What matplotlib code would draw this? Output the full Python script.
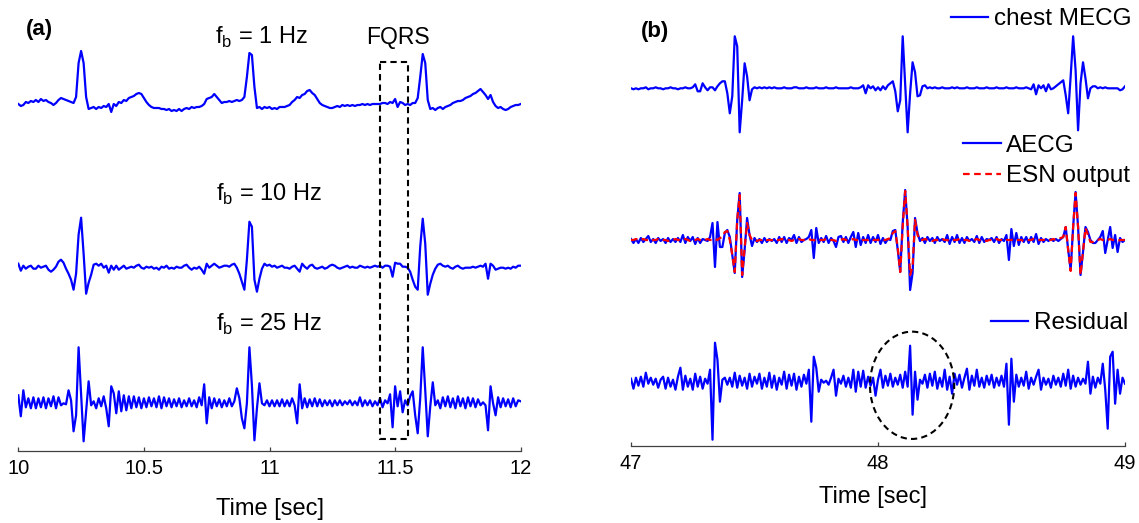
import numpy as np
import matplotlib.pyplot as plt
from matplotlib.patches import Rectangle, Ellipse

plt.rcParams['font.family'] = ['Liberation Sans', 'DejaVu Sans']
plt.rcParams['mathtext.fontset'] = 'custom'
plt.rcParams['mathtext.rm'] = 'Liberation Sans'

# sampling: 100 Hz, 2 s windows
fs = 100.0
t0_a = 10.0
t0_b = 47.0

# (a) abdominal ECG after high-pass filtering at fb (amplitude, a.u.)
fb1 = [0, -2, -1, 2, 1, 3, 2, 4, 2, 5,
       3, 4, 2, 1, -1, 1, 4, 6, 5, 4,
       3, 2, 1, 7, 41, 53, 41, 7, -5, -4,
       -3, -5, -3, -4, -2, -3, 0, -8, 0, -2,
       2, 1, 4, 3, 6, 7, 8, 10, 11, 10,
       6, 2, -1, -3, -4, -4, -4, -5, -5, -6,
       -5, -7, -6, -7, -5, -7, -5, -4, -5, -3,
       -4, -3, -3, -2, 0, 5, 6, 7, 10, 7,
       4, 1, 2, 2, 3, 2, 3, 4, 3, 4,
       7, 27, 51, 49, 17, -4, -3, -5, -3, -4,
       -3, -5, -4, -5, -3, -3, -3, -2, -1, 2,
       4, 7, 6, 9, 10, 13, 14, 11, 9, 5,
       1, -1, -2, -3, -4, -4, -3, -2, -3, -1,
       -2, -1, -2, -1, -2, -1, -1, 0, -1, 0,
       -1, 0, 0, 0, 0, 1, 1, 0, 2, 1,
       5, -3, 2, 1, -1, 0, -1, 1, 1, 6,
       27, 50, 41, 4, -5, -4, -6, -4, -3, -5,
       -3, -2, -1, 1, 2, 3, 3, 4, 6, 7,
       8, 10, 11, 13, 15, 12, 9, 5, 9, 2,
       -2, -4, -3, -5, -6, -5, -3, -2, -1, -1, 0]

fb10 = [3, -4, 1, -2, 0, 1, -2, -2, 1, -1,
        0, 1, -3, -5, -3, 0, 5, 7, 4, -2,
        -7, -13, -23, -7, 32, 49, 13, -27, -16, -8,
        2, 3, 1, 3, -1, 1, -6, 1, -3, 1,
        -3, -1, 1, -2, -1, 0, -1, 1, 2, -1,
        -2, 0, -1, 0, -2, -1, -3, 0, -1, 1,
        -2, -1, -2, 0, -1, -1, 1, 2, -1, -3,
        -1, -2, 0, -3, -7, 3, -1, 1, 3, 1,
        -1, 0, 1, 1, 0, 2, 3, -1, -7, -15,
        -23, 7, 45, 40, -13, -25, -12, -2, 3, 1,
        2, 0, 1, -1, 0, 1, -1, -1, -2, 0,
        1, -2, -5, 3, 0, -2, 1, 2, -1, -2,
        -1, 0, -2, -1, 1, 2, 1, -1, -2, -1,
        0, 1, -1, 0, -1, -1, 1, 0, -1, 0,
        -1, 0, 1, 0, 1, -1, 1, 1, 0, -10,
        4, 3, 3, 0, 0, -1, -5, -13, -20, -23,
        20, 48, 23, -28, -17, -8, -2, 2, 3, 1,
        0, 1, -1, -2, 0, 1, -1, -2, -1, -1,
        -1, 0, -1, 0, 1, 0, 3, -12, 3, 1,
        -3, -2, -1, -1, -2, -1, -2, 0, -1, 1, 1]

fb25 = [8, -13, 13, -4, 5, -5, 6, -5, 5, -4,
        6, -5, 5, -3, 7, -5, 6, -2, 0, -1,
        13, 3, -28, -12, 56, 10, -38, -8, 22, -2,
        2, -5, 5, -3, 7, -5, -23, 17, 10, -10,
        12, -8, 8, -7, 7, -5, 7, -4, 6, -5,
        5, -4, 6, -3, 5, -4, 7, -5, 6, -3,
        5, -4, 4, -3, 5, -4, 3, -3, 5, -3,
        3, -4, 6, -2, 19, -20, 6, -5, 5, -3,
        4, -4, 3, -3, 5, -3, 2, 15, 5, -15,
        -25, 0, 56, 18, -37, -5, 20, 0, -2, 3,
        -3, 3, -3, 3, -3, 4, -3, 3, -3, 5,
        -2, -20, 19, -5, 5, -4, 4, -3, 5, -3,
        4, -3, 3, -2, 3, -3, 3, -2, 3, -2,
        2, -1, 3, -2, 2, -2, 6, -3, 3, -2,
        3, -3, 2, -2, 5, -4, 3, 0, 9, -24,
        17, -3, 12, -9, 3, -2, 7, 12, -12, -30,
        5, 56, 13, -33, -3, 21, -2, 3, -5, 6,
        -3, 7, -4, 5, -5, 7, -3, 5, -5, 6,
        -3, 5, -4, 4, -2, 1, -2, -27, 17, 0,
        -12, 6, -4, 5, -3, 4, -4, 5, -3, 3, 2]

# (b) maternal cancellation
chest_mecg = [0, -1, 0, -1, 0, 0, 1, -1, 0, 0,
              1, 0, 0, -1, 0, 0, 1, 0, 0, -1,
              0, 0, 1, 0, 0, 1, 4, -3, -3, 5,
              1, -2, 1, 1, -2, 2, 5, 7, 7, -5,
              -25, -8, 52, 42, -44, -12, 25, 12, -12, -1,
              1, 0, 1, 0, 1, 0, 1, 0, 1, 0,
              0, 0, 1, 0, 0, 0, 1, 1, 0, 0,
              0, 1, 0, 0, 0, 1, 0, 0, 0, 1,
              0, 0, 0, 1, 0, 0, 0, 0, 0, 1,
              0, 0, 0, 1, 3, -5, 3, 0, 2, -2,
              1, -2, 2, -1, 3, 5, 7, -3, -23, -12,
              52, 5, -44, -5, 26, 16, -8, -7, 2, 3,
              0, 1, 0, 1, 0, 0, 1, 0, 0, 0,
              1, 0, 1, 0, 0, 0, 1, 0, 0, 0,
              1, 0, 0, 0, 1, 0, 0, 0, 1, 0,
              0, 0, 1, 0, 0, 0, 1, 0, 0, 0,
              1, 0, -1, 4, -6, 3, 0, 3, -3, 4,
              -1, 0, 2, 4, 6, 8, -7, -25, 12, 52,
              18, -42, 5, 26, 10, -10, 0, 2, 2, 0,
              1, 0, 1, 0, 0, 0, 0, 0, -2, -1, 2]

aecg = [1, -3, 1, -3, 2, -2, 1, 4, -2, 1,
        -3, 2, -1, 1, -3, 2, -2, 1, -2, 2,
        -2, 5, -3, 3, -1, 3, -4, 2, -3, 1,
        0, -1, 3, 17, -27, 18, -7, -7, 7, 10,
        3, -15, -33, 20, 47, -37, -10, 22, 5, -6,
        2, -2, 1, -3, 2, -2, 1, -1, 1, -3,
        3, -2, 3, -3, 2, 0, 5, -3, 3, -2,
        0, 1, 3, 10, -18, 12, -3, 2, -2, 4,
        -3, 2, -1, -7, 3, 4, -2, 3, -3, 3,
        8, -7, 7, -5, 3, -3, 5, -3, 3, -2,
        5, -4, 2, -3, 1, 0, 9, 10, -10, -32,
        17, 50, 13, -50, -33, 22, 7, -1, 2, -3,
        3, -1, 2, -3, 3, -1, 1, -2, 5, -4,
        3, -2, 5, -3, 2, -3, 3, -1, 1, -2,
        4, -3, 3, -2, 1, 0, 2, -2, 3, -3,
        1, -1, 5, -20, 11, -6, 7, -5, 3, -2,
        3, -3, 3, -2, 6, -4, 2, -2, 1, -1,
        1, -1, 1, -1, 1, 3, 13, -10, -30, 13,
        48, 13, -35, -12, 13, 8, 0, -3, -3, 0,
        3, 9, -13, 0, 13, -8, 5, -12, 2, -2, 0]

esn_output = [0, 0, 1, 0, 0, 1, 0, 0, -1, 0,
              0, 1, 0, 0, 0, -1, 0, 0, 1, 0,
              0, 0, 1, 0, -1, 0, 0, 1, 0, 0,
              0, 1, 0, 0, 1, 0, 2, 3, 8, 9,
              0, -15, -32, 20, 45, -35, -8, 17, 5, 0,
              0, -1, 0, 0, 1, 0, 0, 0, -1, 0,
              0, 1, 0, 0, 0, -1, 0, 0, 1, 0,
              0, 0, 1, 0, 0, -1, 0, 0, 0, 1,
              0, 0, 0, -1, 0, 0, 1, 0, 0, 0,
              1, 0, 0, -1, 0, 0, 0, 1, 0, 0,
              0, 1, 0, 0, 1, 2, 7, 9, -8, -32,
              13, 49, 13, -35, -27, 20, 5, 0, 0, 1,
              0, 0, -1, 0, 0, 0, 1, 0, 0, -1,
              0, 0, 0, 1, 0, 0, 0, -1, 0, 0,
              1, 0, 0, 0, -1, 0, 0, 0, 1, 0,
              0, -1, 0, 0, 0, 1, 0, 0, 0, -1,
              0, 0, 0, 1, 0, 0, 0, 0, 1, 0,
              0, 1, 0, 1, 2, 3, 13, -10, -31, 13,
              47, 13, -35, -12, 12, 5, -2, -2, 0, 0,
              1, 0, -1, 0, 1, 0, 0, -1, 0, 0, 0]

residual = [3, -7, 4, -4, 5, -5, 9, -2, 4, -3,
            3, -6, 2, 5, -7, 4, -5, 2, -8, 5,
            14, -8, 6, -5, 3, -8, 8, -5, 5, -7,
            3, -2, 12, -58, 39, 22, -20, 2, 4, -3,
            4, -5, 9, -6, 6, -4, 4, -7, 8, -5,
            5, -2, 8, -7, 4, -5, 9, -6, 6, -8,
            4, -3, 10, -7, 7, -4, 8, -8, 5, -5,
            7, -2, 12, -40, 25, 14, -10, 2, -1, 1,
            -3, 4, 12, -14, 3, -2, 6, -5, 4, -6,
            12, -10, 10, -5, 11, -6, 5, -4, 4, -14,
            2, 12, -6, 6, -4, 8, -5, 4, -3, 7,
            -6, 10, -5, 36, -33, 10, -18, 2, -2, 7,
            -6, 8, -4, 10, -7, 4, -5, 12, -8, 5,
            -12, 8, -3, 7, -6, 4, 13, -8, 6, -4,
            12, -5, 4, -6, 6, -3, 7, -6, 4, -4,
            6, -5, 18, -43, 23, -20, 7, -5, 4, -4,
            10, -7, 4, -3, 5, 12, -8, 4, -3, 3,
            -6, 6, -3, 4, -5, 8, -4, 12, -7, 6,
            -5, 4, -3, 3, -2, 20, -12, 5, -6, 4,
            -2, 18, -8, -47, 25, 30, -22, 12, -12, 4, -2]

ticks_a = [10, 10.5, 11, 11.5, 12]
tick_labels_a = ['10', '10.5', '11', '11.5', '12']
ticks_b = [47, 48, 49]
fb_labels = ['f$_\\mathregular{b}$ = 1 Hz', 'f$_\\mathregular{b}$ = 10 Hz',
             'f$_\\mathregular{b}$ = 25 Hz']

W, H = 1139, 523
fig = plt.figure(figsize=(W / 100, H / 100), dpi=100)


def fx(x):
    return x / W


def fy(y):
    return 1 - y / H


def make_axes(x0, x1, ybot):
    # axes spanning from the figure top down to the time axis line,
    # y measured downward so the traces can be stacked by offset
    ax = fig.add_axes([fx(x0), fy(ybot), (x1 - x0) / W, ybot / H])
    ax.set_ylim(ybot, 0)
    for s in ['left', 'right', 'top']:
        ax.spines[s].set_visible(False)
    ax.spines['bottom'].set_linewidth(0.9)
    ax.spines['bottom'].set_color('#404040')
    ax.set_yticks([])
    ax.tick_params(axis='x', direction='in', length=3.2, width=0.9,
                   color='#404040', labelsize=14.5, pad=6)
    ax.patch.set_alpha(0)
    return ax


def trace(vals, t0):
    v = np.asarray(vals, dtype=float)
    return t0 + np.arange(len(v)) / fs, v


blue = '#0000ff'
red = '#ff0000'
lw = 1.6

# ---- panel (a)
ax_a = make_axes(18.3, 520.7, 450.7)
for vals, base in zip([fb1, fb10, fb25], [104, 266.7, 403.3]):
    t, v = trace(vals, t0_a)
    ax_a.plot(t, base - v, color=blue, lw=lw)
ax_a.set_xlim(10, 12)
ax_a.set_xticks(ticks_a)
ax_a.set_xticklabels(tick_labels_a)
ax_a.set_xlabel('Time [sec]', fontsize=17)
ax_a.xaxis.label.set_va('baseline')
ax_a.xaxis.set_label_coords(fx(270), fy(515), transform=fig.transFigure)

ax_a.add_patch(Rectangle((11.44, 61.7), 0.11, 377.3, fill=False,
                         ec='black', lw=1.5, ls=(0, (3, 2)), zorder=5))

for lab, (x, y) in zip(fb_labels, [(215, 43.3), (216, 201), (216, 330.7)]):
    fig.text(fx(x), fy(y), lab, fontsize=17, ha='left', va='baseline')
fig.text(fx(398), fy(44), 'FQRS', fontsize=16.5, ha='center', va='baseline')
fig.text(fx(39.6), fy(29), '(a)', fontsize=16, fontweight='bold',
         ha='center', va='center')

# ---- panel (b)
ax_b = make_axes(631, 1125, 446)
t, v = trace(chest_mecg, t0_b)
l_chest, = ax_b.plot(t, 88.3 - v, color=blue, lw=lw)
t, v = trace(aecg, t0_b)
l_aecg, = ax_b.plot(t, 240 - v, color=blue, lw=lw)
t, v = trace(esn_output, t0_b)
l_esn, = ax_b.plot(t, 240 - v, color=red, lw=lw, ls=(0, (3, 2)))
t, v = trace(residual, t0_b)
l_res, = ax_b.plot(t, 381.7 - v, color=blue, lw=lw)
ax_b.set_xlim(47, 49)
ax_b.set_xticks(ticks_b)
ax_b.set_xlabel('Time [sec]', fontsize=17)
ax_b.xaxis.label.set_va('baseline')
ax_b.xaxis.set_label_coords(fx(872.7), fy(503), transform=fig.transFigure)

ax_b.add_patch(Ellipse((48.138, 385.3), 0.341, 107.3, fill=False,
                       ec='black', lw=1.5, ls=(0, (3, 2)), zorder=5))

fig.text(fx(655), fy(31), '(b)', fontsize=16, fontweight='bold',
         ha='center', va='center')

leg_kw = dict(loc='upper left', frameon=False, borderpad=0, borderaxespad=0,
              handlelength=1.55, handletextpad=0.23, fontsize=17.5,
              labelspacing=0.35, bbox_transform=fig.transFigure)
leg1 = ax_b.legend([l_chest], ['chest MECG'],
                   bbox_to_anchor=(fx(950.7), fy(8)), **leg_kw)
ax_b.add_artist(leg1)
leg2 = ax_b.legend([l_aecg, l_esn], ['AECG', 'ESN output'],
                   bbox_to_anchor=(fx(963), fy(134.6)), **leg_kw)
ax_b.add_artist(leg2)
leg3 = ax_b.legend([l_res], ['Residual'],
                   bbox_to_anchor=(fx(990.6), fy(312.3)), **leg_kw)

fig.savefig('out.png', dpi=100)
